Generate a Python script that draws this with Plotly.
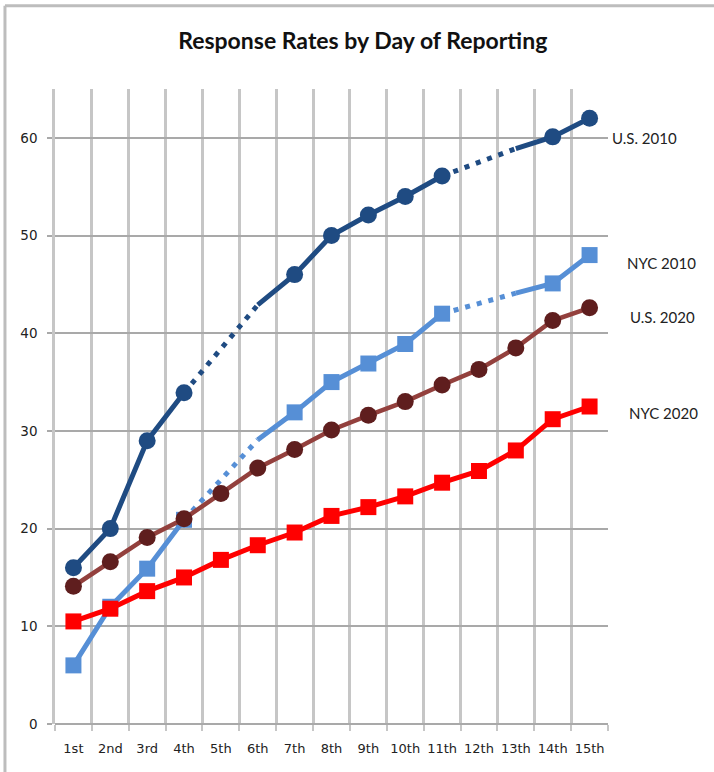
import plotly.graph_objects as go

days = ["1st", "2nd", "3rd", "4th", "5th", "6th", "7th", "8th", "9th", "10th",
        "11th", "12th", "13th", "14th", "15th"]
us2010 = [16, 20, 29, 33.9, None, 42.9, 46, 50, 52.1, 54, 56.1, None, 58.9, 60.1, 62]
nyc2010 = [6, 12, 15.9, 20.9, None, 29.1, 31.9, 35, 36.9, 38.9, 42, None, 44.1, 45.1, 48]
us2020 = [14.1, 16.6, 19.1, 21, 23.6, 26.2, 28.1, 30.1, 31.6, 33, 34.7, 36.3, 38.5, 41.3, 42.6]
nyc2020 = [10.5, 11.8, 13.6, 15, 16.8, 18.3, 19.6, 21.3, 22.2, 23.3, 24.7, 25.9, 28, 31.2, 32.5]
line_only_days_2010 = ["6th", "13th"]     # 2010 points reached by the line but without a marker
dotted_spans_2010 = [("4th", "6th"), ("11th", "13th")]
y_ticks = [0, 10, 20, 30, 40, 50, 60]

title_text = "Response Rates by Day of Reporting"
labels = {"U.S. 2010": 60, "NYC 2010": 47.2, "U.S. 2020": 41.7, "NYC 2020": 31.85}

C_US10 = "#1F4B82"
C_NYC10 = "#568FD6"
C_US20_LINE = "#93403D"
C_US20_MK = "#5F1E1E"
C_NYC20 = "#FF0000"

fig = go.Figure()


def dotted_trace(vals, color):
    xs, ys = [], []
    for a, b in dotted_spans_2010:
        ia, ib = days.index(a), days.index(b)
        xs += [a, b, None]
        ys += [vals[ia], vals[ib], None]
    fig.add_trace(go.Scatter(x=xs, y=ys, mode="lines",
                             line=dict(color=color, width=5, dash="5px,7px"),
                             hoverinfo="skip"))


def solid_trace(vals, lcolor, mcolor, symbol, msize, lwidth, hidden=()):
    sizes = [0 if d in hidden else msize for d in days]
    fig.add_trace(go.Scatter(x=days, y=vals, mode="lines+markers",
                             line=dict(color=lcolor, width=lwidth),
                             marker=dict(color=mcolor, symbol=symbol, size=sizes,
                                         opacity=1, line=dict(width=0)),
                             connectgaps=False))


dotted_trace(nyc2010, C_NYC10)
solid_trace(nyc2010, C_NYC10, C_NYC10, "square", 16, 5, line_only_days_2010)
solid_trace(nyc2020, C_NYC20, C_NYC20, "square", 16, 5)
solid_trace(us2020, C_US20_LINE, C_US20_MK, "circle", 17, 4.5)
dotted_trace(us2010, C_US10)
solid_trace(us2010, C_US10, C_US10, "circle", 17, 5, line_only_days_2010)

ann = []
label_x = {"U.S. 2010": 1.004, "NYC 2010": 1.031, "U.S. 2020": 1.037, "NYC 2020": 1.035}
for name, yv in labels.items():
    ann.append(dict(text=name, xref="paper", yref="y", x=label_x[name], y=yv,
                    xanchor="left", yanchor="middle", showarrow=False,
                    font=dict(family="Lato", size=15, color="#222222")))

grid_v = "#C6C6C6"
grid_h = "#A9A9A9"

fig.update_layout(
    width=714, height=772,
    margin=dict(l=55, r=106, t=89, b=48, autoexpand=False),
    paper_bgcolor="white", plot_bgcolor="white",
    showlegend=False,
    title=dict(text=title_text, x=0.508, xanchor="center", y=1 - 41 / 772, yanchor="middle",
               font=dict(family="Lato", size=23, color="#111111", weight="bold")),
    annotations=ann,
    shapes=[
        dict(type="line", xref="paper", yref="paper", x0=(5 - 55) / 552.7, x1=1.3,
             y0=(724.3 - 6) / 635, y1=(724.3 - 6) / 635, line=dict(color="#BDBDBD", width=3),
             layer="below"),
        dict(type="line", xref="paper", yref="paper", x0=(5 - 55) / 552.7, x1=(5 - 55) / 552.7,
             y0=(724.3 - 6) / 635, y1=-0.2, line=dict(color="#BDBDBD", width=3),
             layer="below"),
    ],
)

fig.update_xaxes(type="category", categoryorder="array", categoryarray=days,
                 range=[-0.5, 14.5], tickson="boundaries", tickangle=0, automargin=False,
                 showgrid=True, gridcolor=grid_v, gridwidth=2.5,
                 ticks="outside", ticklen=6, tickcolor=grid_v, tickwidth=2,
                 showline=False, zeroline=False,
                 tickfont=dict(family="DejaVu Sans", size=13, color="#222222"),
                 ticklabelstandoff=15)
fig.update_yaxes(range=[0, 65], tickvals=y_ticks, automargin=False,
                 showgrid=True, gridcolor=grid_h, gridwidth=2,
                 ticks="outside", ticklen=5, tickcolor=grid_h, tickwidth=2,
                 showline=True, linecolor=grid_v, linewidth=2.5,
                 zeroline=True, zerolinecolor=grid_h, zerolinewidth=2,
                 tickfont=dict(family="DejaVu Sans", size=13.5, color="#222222"),
                 ticklabelstandoff=7)

fig.write_html("out.html", config={"displayModeBar": False},
               post_script="document.body.style.margin='0';")
